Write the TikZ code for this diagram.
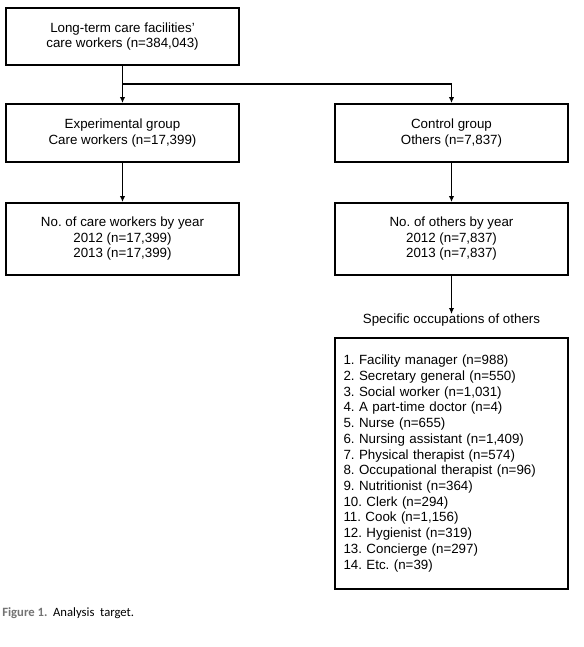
\documentclass[tikz,border=0pt]{standalone}
\usepackage{fontspec}
\setmainfont{Liberation Sans}
\newfontfamily\capfont{Carlito}
\usetikzlibrary{arrows.meta}
\frenchspacing

\tikzset{
    box/.style={draw=black, line width=1.4pt, minimum width=174.75pt, align=center,
        font=\fontsize{10}{11.6}\selectfont, inner sep=0pt},
    conn/.style={draw=black, line width=1.4pt},
    arr/.style={conn, -{Latex[length=4.5pt, width=4pt]}}
}

\begin{document}
\begin{tikzpicture}[x=0.75pt, y=-0.75pt]
            \useasboundingbox (0,0) rectangle (584,647);

            % Top box
            \node[box, minimum height=42.75pt] (top) at (122.5,36.5)
                {Long-term care facilities'\\care workers (n=384,043)};

            % Groups
            \node[box, minimum height=43.5pt] (exp) at (122.5,133)
                {Experimental group\\Care workers (n=17,399)};
            \node[box, minimum height=43.5pt] (ctrl) at (451.5,133)
                {Control group\\Others (n=7,837)};

            % Counts by year
            \node[box, minimum height=54pt] (expyear) at (122.5,239)
                {No. of care workers by year\\2012 (n=17,399)\\2013 (n=17,399)};
            \node[box, minimum height=54pt] (ctrlyear) at (451.5,239)
                {No. of others by year\\2012 (n=7,837)\\2013 (n=7,837)};

            % Occupations
            \node[font=\fontsize{10}{11.6}\selectfont, anchor=north, inner sep=0pt] (occtitle) at (451.5,314)
                {Specific occupations of others};
            \node[box, minimum height=188.25pt, anchor=north, align=left, text width=162pt,
                  font=\fontsize{10}{11.8}\selectfont] (occlist) at (451.5,337)
                {1. Facility manager (n=988)\\
                 2. Secretary general (n=550)\\
                 3. Social worker (n=1,031)\\
                 4. A part-time doctor (n=4)\\
                 5. Nurse (n=655)\\
                 6. Nursing assistant (n=1,409)\\
                 7. Physical therapist (n=574)\\
                 8. Occupational therapist (n=96)\\
                 9. Nutritionist (n=364)\\
                 10. Clerk (n=294)\\
                 11. Cook (n=1,156)\\
                 12. Hygienist (n=319)\\
                 13. Concierge (n=297)\\
                 14. Etc. (n=39)};

            % Connectors
            \coordinate (junct) at (122.5,84);
            \draw[arr] (top.south) -- (exp.north);
            \draw[arr] (junct) -| (ctrl.north);
            \draw[arr] (exp.south) -- (expyear.north);
            \draw[arr] (ctrl.south) -- (ctrlyear.north);
            \draw[arr] (ctrlyear.south) -- (occtitle.north);

            % Caption
            \node[anchor=west, inner sep=0pt, font=\capfont\fontsize{9.5}{11}\selectfont] (caption) at (2,613)
                {{\color{black!55}\bfseries Figure 1.}\ \ Analysis\ \ target.};
        \end{tikzpicture}
\end{document}
